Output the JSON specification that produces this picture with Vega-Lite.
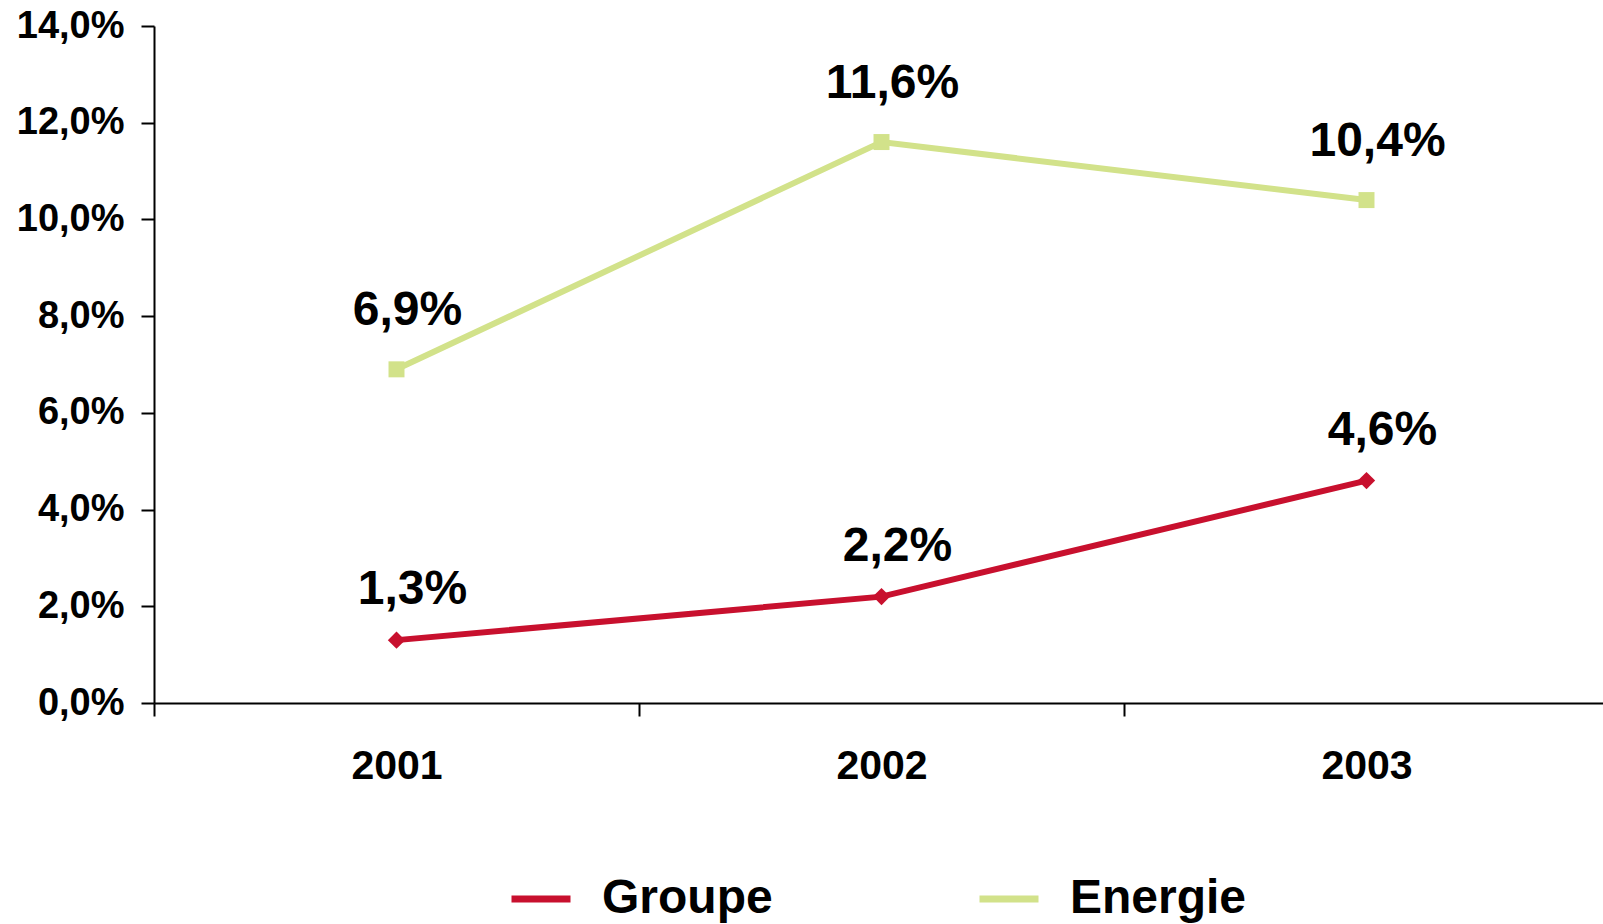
{
  "$schema": "https://vega.github.io/schema/vega-lite/v6.json",
  "width": 1455,
  "height": 677,
  "autosize": "none",
  "padding": {"left": 154, "top": 26, "right": 0, "bottom": 221},
  "background": "white",
  "config": {
    "locale": {"number": {"decimal": ",", "thousands": " ", "grouping": [3], "currency": ["", " €"]}},
    "font": "Liberation Sans",
    "view": {"stroke": null}
  },
  "data": {
    "values": [
      {"year": "2001", "series": "Groupe", "value": 0.013},
      {"year": "2002", "series": "Groupe", "value": 0.022},
      {"year": "2003", "series": "Groupe", "value": 0.046},
      {"year": "2001", "series": "Energie", "value": 0.069},
      {"year": "2002", "series": "Energie", "value": 0.116},
      {"year": "2003", "series": "Energie", "value": 0.104}
    ]
  },
  "encoding": {
    "x": {
      "field": "year", "type": "ordinal",
      "scale": {"type": "band", "paddingInner": 0, "paddingOuter": 0},
      "axis": {
        "title": null, "labelAngle": 0, "tickBand": "extent",
        "domainColor": "black", "domainWidth": 2,
        "tickColor": "black", "tickWidth": 2, "tickSize": 13,
        "labelFontSize": 41, "labelFontWeight": "bold", "labelColor": "black",
        "labelPadding": 30, "grid": false
      }
    },
    "y": {
      "field": "value", "type": "quantitative",
      "scale": {"domain": [0, 0.14], "nice": false},
      "axis": {
        "title": null, "values": [0, 0.02, 0.04, 0.06, 0.08, 0.1, 0.12, 0.14],
        "format": ".1%", "grid": false,
        "domainColor": "black", "domainWidth": 2,
        "tickColor": "black", "tickWidth": 2, "tickSize": 13,
        "labelFontSize": 38, "labelFontWeight": "bold", "labelColor": "black",
        "labelPadding": 17
      }
    }
  },
  "layer": [
    {
      "mark": {"type": "line", "strokeWidth": 6},
      "encoding": {
        "color": {
          "field": "series", "type": "nominal",
          "scale": {"domain": ["Groupe", "Energie"], "range": ["#C8102E", "#D2E28A"]},
          "legend": {
            "title": null, "orient": "none", "direction": "horizontal",
            "legendX": 354, "legendY": 840, "padding": 0,
            "symbolType": "stroke", "symbolStrokeWidth": 7, "symbolSize": 3481,
            "labelFontSize": 48, "labelFontWeight": "bold", "labelColor": "black",
            "labelOffset": 28, "columnPadding": 192, "labelLimit": 400
          }
        }
      }
    },
    {
      "transform": [{"filter": "datum.series === 'Groupe'"}],
      "mark": {"type": "point", "filled": true, "opacity": 1, "shape": "diamond", "size": 300, "color": "#C8102E"}
    },
    {
      "transform": [{"filter": "datum.series === 'Energie'"}],
      "mark": {"type": "point", "filled": true, "opacity": 1, "shape": "square", "size": 256, "color": "#D2E28A"}
    },
    {
      "transform": [{"filter": "datum.series === 'Energie'"}],
      "mark": {"type": "text", "dy": -58, "dx": 11, "fontSize": 48, "fontWeight": "bold", "color": "black", "baseline": "middle"},
      "encoding": {"text": {"field": "value", "type": "quantitative", "format": ".1%"}}
    },
    {
      "transform": [{"filter": "datum.series === 'Groupe'"}],
      "mark": {"type": "text", "dy": -50, "dx": 16, "fontSize": 48, "fontWeight": "bold", "color": "black", "baseline": "middle"},
      "encoding": {"text": {"field": "value", "type": "quantitative", "format": ".1%"}}
    }
  ]
}
